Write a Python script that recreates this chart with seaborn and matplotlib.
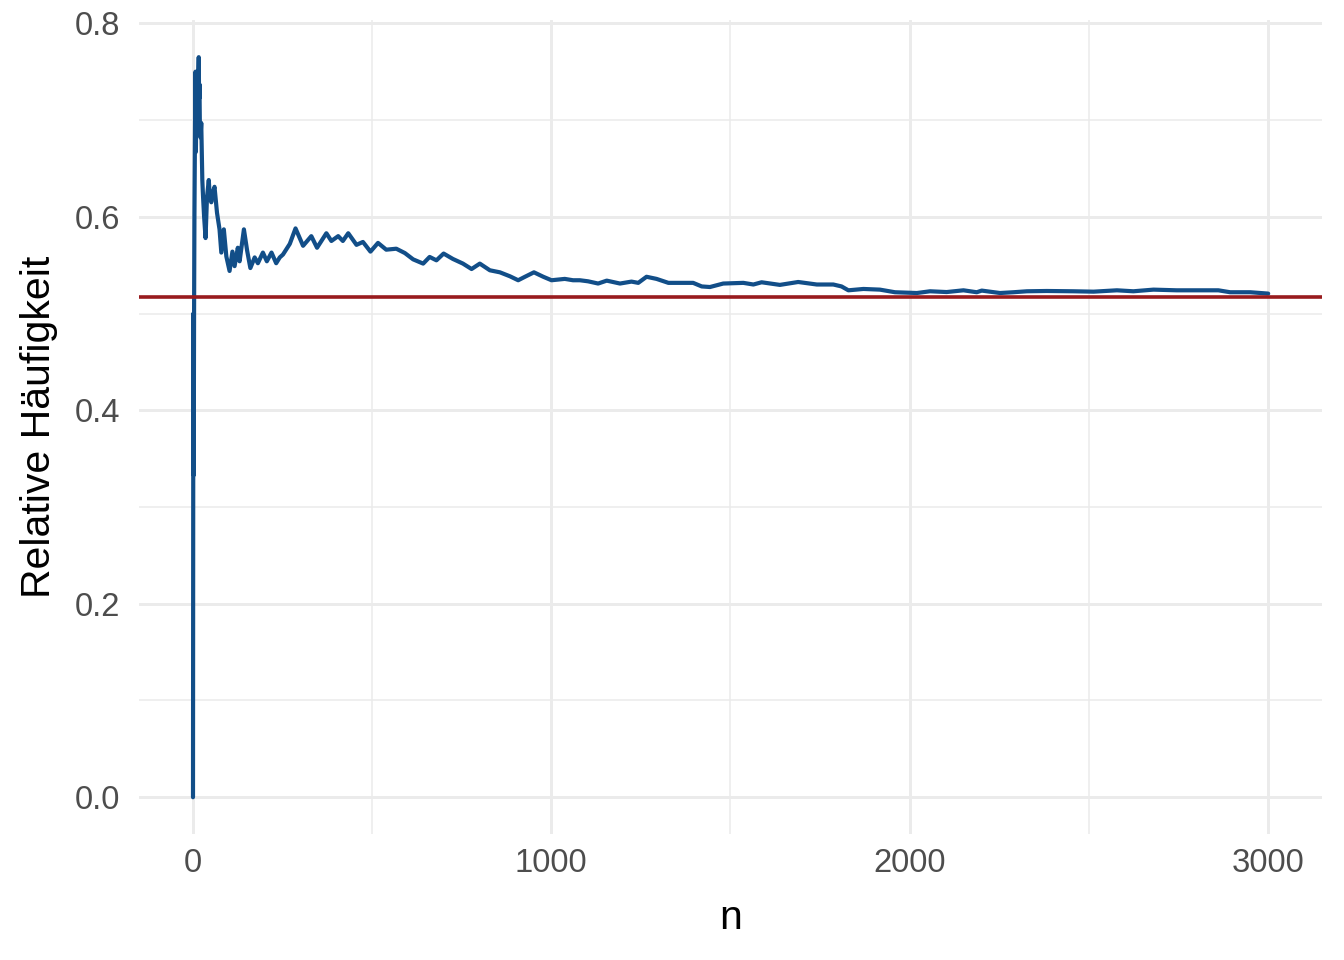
import matplotlib
matplotlib.use("Agg")
import matplotlib.pyplot as plt
import seaborn as sns
import pandas as pd
from matplotlib.ticker import MultipleLocator

# ---- data ----
n_values = [1, 2, 3, 4, 5, 6, 7, 8, 9, 10, 11, 12, 13, 14, 15, 16, 17, 18, 19, 20,
            22, 24, 26, 27, 29, 32, 36, 40, 45, 48, 52, 56, 61, 68, 75, 80, 87, 94,
            103, 111, 117, 126, 131, 143, 152, 161, 173, 182, 196, 207, 220, 233,
            243, 252, 271, 287, 308, 331, 347, 373, 387, 406, 419, 434, 457, 475,
            496, 517, 540, 568, 592, 615, 643, 661, 680, 700, 726, 754, 778, 801,
            829, 857, 885, 908, 927, 952, 978, 1001, 1038, 1061, 1080, 1103, 1131,
            1155, 1192, 1224, 1243, 1266, 1294, 1327, 1359, 1396, 1420, 1443, 1480,
            1536, 1564, 1587, 1638, 1689, 1741, 1787, 1810, 1829, 1871, 1917, 1959,
            2020, 2057, 2103, 2150, 2187, 2201, 2252, 2289, 2327, 2382, 2457, 2513,
            2578, 2624, 2680, 2745, 2810, 2861, 2894, 2950, 3000]
rel_freq = [0.0, 0.5, 0.333, 0.5, 0.6, 0.667, 0.714, 0.75, 0.667, 0.7, 0.727, 0.75,
            0.692, 0.714, 0.733, 0.75, 0.765, 0.722, 0.737, 0.7, 0.682, 0.697, 0.654,
            0.638, 0.621, 0.6, 0.578, 0.62, 0.638, 0.62, 0.615, 0.625, 0.631, 0.604,
            0.587, 0.563, 0.587, 0.559, 0.544, 0.564, 0.549, 0.568, 0.554, 0.587,
            0.565, 0.547, 0.558, 0.552, 0.563, 0.554, 0.563, 0.552, 0.558, 0.561,
            0.572, 0.588, 0.570, 0.580, 0.568, 0.583, 0.575, 0.580, 0.575, 0.583,
            0.571, 0.574, 0.564, 0.573, 0.566, 0.567, 0.5625, 0.556, 0.5516, 0.5585,
            0.555, 0.562, 0.5564, 0.5516, 0.546, 0.5516, 0.5447, 0.5426, 0.5385,
            0.5344, 0.538, 0.5426, 0.538, 0.5344, 0.5358, 0.5344, 0.5344, 0.5333,
            0.531, 0.534, 0.531, 0.533, 0.5317, 0.538, 0.5358, 0.5317, 0.5317,
            0.5317, 0.528, 0.5274, 0.531, 0.5317, 0.530, 0.5323, 0.5296, 0.5326,
            0.530, 0.530, 0.528, 0.524, 0.5254, 0.5247, 0.522, 0.5212, 0.523, 0.5222,
            0.524, 0.522, 0.5237, 0.5212, 0.522, 0.523, 0.5233, 0.523, 0.5226, 0.524,
            0.523, 0.5247, 0.524, 0.524, 0.524, 0.522, 0.522, 0.5206]
reference_value = [0.5175]

x_label = "n"
y_label = "Relative Häufigkeit"

df = pd.DataFrame({"n": n_values, "rel": rel_freq})

sns.set_theme(style="white")
plt.rcParams["font.family"] = ["Liberation Sans", "DejaVu Sans"]

fig = plt.figure(figsize=(13.44, 9.6), dpi=100)
ax = fig.add_axes([0.1036, 0.131, 0.88, 0.848])

sns.lineplot(data=df, x="n", y="rel", ax=ax, color="#124E88", linewidth=3.0,
             estimator=None, zorder=3)
ax.axhline(reference_value[0], color="#981B1E", linewidth=2.6, zorder=4)

ax.margins(x=0.05, y=0.05)
ax.xaxis.set_major_locator(MultipleLocator(1000))
ax.xaxis.set_minor_locator(MultipleLocator(500))
ax.yaxis.set_major_locator(MultipleLocator(0.2))
ax.yaxis.set_minor_locator(MultipleLocator(0.1))
ax.yaxis.set_major_formatter(matplotlib.ticker.FormatStrFormatter("%.1f"))

ax.grid(which="major", color="#EBEBEB", linewidth=2.1, zorder=0)
ax.grid(which="minor", color="#EBEBEB", linewidth=1.1, zorder=0)
ax.set_axisbelow(True)
for s in ax.spines.values():
    s.set_visible(False)

ax.tick_params(which="both", length=0)
ax.tick_params(axis="y", labelsize=23.6, labelcolor="#4D4D4D", pad=14)
ax.tick_params(axis="x", labelsize=23.6, labelcolor="#4D4D4D", pad=10)

ax.set_xlabel(x_label, fontsize=29.5, color="black", labelpad=14)
ax.set_ylabel(y_label, fontsize=29.5, color="black", labelpad=12)

fig.savefig("out.png", dpi=100)
